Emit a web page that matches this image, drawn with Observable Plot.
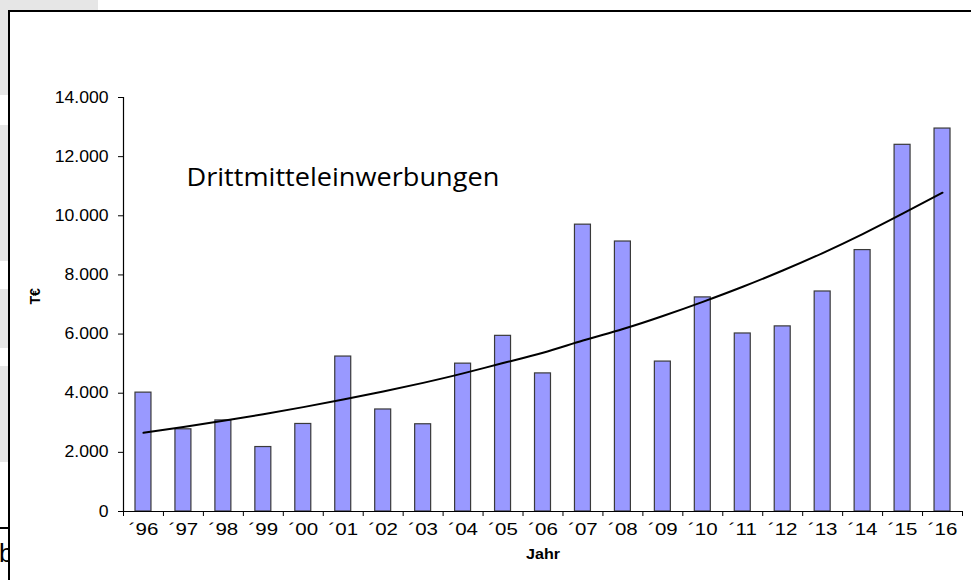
<!DOCTYPE html>
<html>
<head>
<meta charset="utf-8">
<script src="https://cdn.jsdelivr.net/npm/d3@7"></script>
<script src="https://cdn.jsdelivr.net/npm/@observablehq/plot@0.6"></script>
<style>
  body { margin: 0; background: #fff; }
  #wrap { position: relative; width: 971px; height: 580px; overflow: hidden; background: #fff; }
  .gray { position: absolute; background: #e6e6e6; }
  #frame { position: absolute; left: 8px; top: 10px; width: 1000px; height: 620px;
           border-left: 2px solid #000; border-top: 2px solid #000; box-sizing: border-box; }
  #chart { position: absolute; left: 0; top: 0; }
  #bclip { position: absolute; left: 0; top: 536px; width: 8px; height: 34px; overflow: hidden; }
  #bclip span { position: absolute; left: -1px; top: 2px; line-height: 30px; font: 26px "Liberation Sans Narrow", "Liberation Sans", sans-serif; color: #000; }
  #bline { position: absolute; left: 0; top: 527px; width: 8px; height: 2px; background: #000; }
</style>
</head>
<body>
<div id="wrap">
  <div class="gray" style="left:0;top:0;width:98px;height:10px"></div>
  <div class="gray" style="left:0;top:0;width:8px;height:95px"></div>
  <div class="gray" style="left:0;top:125px;width:8px;height:136px"></div>
  <div class="gray" style="left:0;top:289px;width:8px;height:59px"></div>
  <div class="gray" style="left:0;top:366px;width:8px;height:96px"></div>
  <div id="bline"></div>
  <div id="bclip"><span>b</span></div>
  <div id="chart"></div>
  <div id="frame"></div>
</div>
<script>
// ---- data ----
const years = ["´96","´97","´98","´99","´00","´01","´02","´03","´04","´05","´06",
               "´07","´08","´09","´10","´11","´12","´13","´14","´15","´16"];
const funds = [4020, 2780, 3080, 2180, 2960, 5240, 3450, 2950, 5000, 5940, 4670,
               9700, 9130, 5070, 7240, 6020, 6260, 7440, 8840, 12400, 12950];
const trend = [2660, 2860, 3070, 3290, 3530, 3790, 4060, 4350, 4670, 5020, 5370,
               5780, 6170, 6610, 7090, 7600, 8150, 8740, 9380, 10070, 10780];
const yTicks = [0, 2000, 4000, 6000, 8000, 10000, 12000, 14000];
const title = "Drittmitteleinwerbungen";
const xLabel = "Jahr";
const yLabel = "T€";

const barData = years.map((y, i) => ({i, year: y, value: funds[i]}));
const trendData = years.map((y, i) => ({i, value: trend[i]}));
const de = d3.formatLocale({decimal: ",", thousands: ".", grouping: [3], currency: ["", " €"]});
const fmt = de.format(",");

const chart = Plot.plot({
  width: 971,
  height: 580,
  marginLeft: 123,
  marginRight: 9,
  marginTop: 97,
  marginBottom: 69,
  style: {fontFamily: "'Liberation Sans', Arial, sans-serif", color: "#000", background: "transparent"},
  x: {type: "linear", domain: [0, years.length], axis: null},
  y: {domain: [0, 14000], axis: null},
  marks: [
    Plot.rectY(barData, {x1: d => d.i + 0.3, x2: d => d.i + 0.7, y: "value",
      fill: "#9999ff", stroke: "#3a3a3a", strokeWidth: 1.2}),
    Plot.line(trendData, {x: d => d.i + 0.5, y: "value", stroke: "#000", strokeWidth: 2, curve: "natural"}),
    Plot.ruleX([0], {stroke: "#000", strokeWidth: 1.2}),
    Plot.ruleY([0], {stroke: "#000", strokeWidth: 1.2}),
    Plot.axisY({ticks: yTicks, tickSize: 5, tickPadding: 10, tickFormat: fmt,
      fontSize: 16, label: null, stroke: "#000"}),
    Plot.axisX({ticks: d3.range(years.length + 1), tickSize: 5, tickFormat: () => "", label: null, stroke: "#000"}),
    Plot.axisX({ticks: years.map((_, i) => i + 0.5), tickSize: 0, tickPadding: 12,
      tickFormat: d => years[Math.floor(d)], fontSize: 16, label: null}),
    Plot.text([xLabel], {frameAnchor: "bottom", dy: 47, fontWeight: "bold", fontSize: 14}),
    Plot.text([yLabel], {frameAnchor: "left", dx: -88, rotate: -90, fontWeight: "bold", fontSize: 14}),
    Plot.text([title], {frameAnchor: "top-left", dx: 63, dy: 71, textAnchor: "start",
      fontFamily: "'Open Sans', sans-serif", fontSize: 25, fill: "#000"})
  ]
});
document.getElementById("chart").appendChild(chart);

// horizontal stretch of texts, as in the (horizontally stretched) reference picture
function stretch(t, s) {
  const tr = t.getAttribute("transform") || "";
  t.setAttribute("transform", `${tr} scale(${s},1)`);
}
chart.querySelectorAll("text").forEach(t => {
  const s = t.textContent;
  if (years.includes(s)) stretch(t, 1.28);
  else if (/^\d+(\.\d+)?$/.test(s)) stretch(t, 1.1);
  else if (s === xLabel) stretch(t, 1.15);
  else if (s === title) stretch(t, 1.085);
});
</script>
</body>
</html>
